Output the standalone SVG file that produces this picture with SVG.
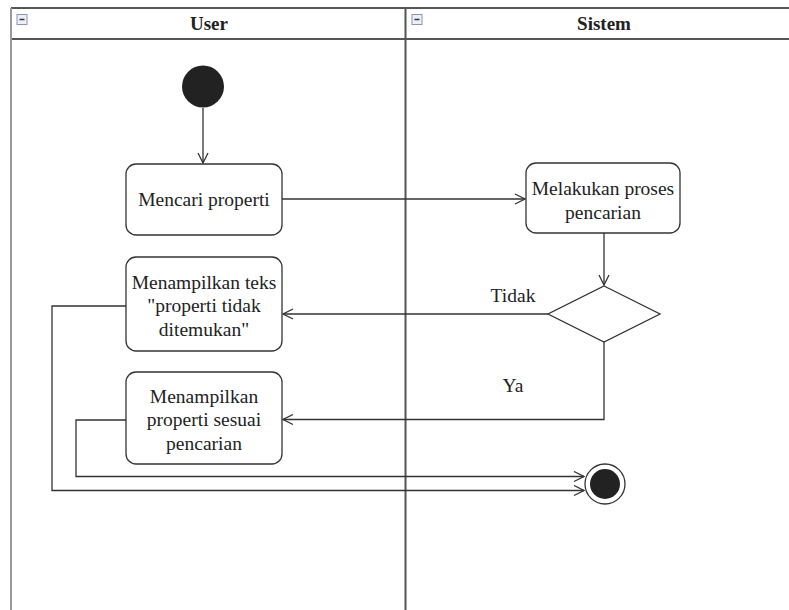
<svg xmlns="http://www.w3.org/2000/svg" width="789" height="610" viewBox="0 0 789 610">
<defs>
<style>
.lane{stroke:#555;stroke-width:2;fill:none}
.node{fill:#fff;stroke:#333;stroke-width:1.3}
.t{font-family:"Liberation Serif","Times New Roman",serif;font-size:19.5px;fill:#222;text-anchor:middle}
.h{font-family:"Liberation Serif","Times New Roman",serif;font-size:19px;font-weight:bold;fill:#222;text-anchor:middle}
.c{stroke:#333;stroke-width:1.3;fill:none}
.icon{fill:#eef0f8;stroke:#8a94b8;stroke-width:1}
</style>
<marker id="arr" viewBox="0 0 12 12" refX="11" refY="6" markerWidth="12" markerHeight="12" markerUnits="userSpaceOnUse" orient="auto">
<path d="M1,1 L11,6 L1,11" fill="none" stroke="#333" stroke-width="1.3"/>
</marker>
</defs>
<rect width="789" height="610" fill="#fff"/>
<g id="lanes">
<line class="lane" x1="11" y1="8" x2="789" y2="8"/>
<line class="lane" x1="11" y1="39" x2="789" y2="39"/>
<line x1="11" y1="8" x2="11" y2="610" stroke="#999" stroke-width="2"/>
<line class="lane" x1="405.5" y1="8" x2="405.5" y2="610"/>
<rect class="icon" x="17" y="14.5" width="10" height="10"/>
<line x1="19.5" y1="19.5" x2="24.5" y2="19.5" stroke="#333" stroke-width="1.5"/>
<rect class="icon" x="412" y="14.5" width="10" height="10"/>
<line x1="414.5" y1="19.5" x2="419.5" y2="19.5" stroke="#333" stroke-width="1.5"/>
<text class="h" x="209" y="30">User</text>
<text class="h" x="604" y="30">Sistem</text>
</g>
<g id="connectors">
<line class="c" x1="203" y1="108" x2="203" y2="163" marker-end="url(#arr)"/>
<line class="c" x1="282" y1="199" x2="525" y2="199" marker-end="url(#arr)"/>
<line class="c" x1="604" y1="233" x2="604" y2="285" marker-end="url(#arr)"/>
<line class="c" x1="548" y1="314" x2="283" y2="314" marker-end="url(#arr)"/>
<polyline class="c" points="604,342 604,419.5 283,419.5" marker-end="url(#arr)"/>
<polyline class="c" points="126,306 52,306 52,490.5 584,490.5" marker-end="url(#arr)"/>
<polyline class="c" points="126,420 76,420 76,476.5 584,476.5" marker-end="url(#arr)"/>
<text class="t" x="513" y="302">Tidak</text>
<text class="t" x="513" y="392">Ya</text>
</g>
<g id="start">
<circle cx="203" cy="86.5" r="21" fill="#222"/>
</g>
<g id="mencari">
<rect class="node" x="126" y="164" width="156" height="71" rx="10"/>
<text class="t" x="204" y="206">Mencari properti</text>
</g>
<g id="melakukan">
<rect class="node" x="526" y="163" width="154" height="70" rx="10"/>
<text class="t" x="603" y="195">Melakukan proses</text>
<text class="t" x="603" y="219">pencarian</text>
</g>
<g id="decision">
<polygon class="node" points="604,286 660,314 604,342 548,314"/>
</g>
<g id="tampil-teks">
<rect class="node" x="126" y="257" width="156" height="94" rx="10"/>
<text class="t" x="204" y="289">Menampilkan teks</text>
<text class="t" x="204" y="312">"properti tidak</text>
<text class="t" x="204" y="336">ditemukan"</text>
</g>
<g id="tampil-properti">
<rect class="node" x="126" y="372" width="156" height="92" rx="10"/>
<text class="t" x="204" y="403">Menampilkan</text>
<text class="t" x="204" y="426">properti sesuai</text>
<text class="t" x="204" y="450">pencarian</text>
</g>
<g id="end">
<circle cx="605" cy="484" r="20" fill="#fff" stroke="#333" stroke-width="1.3"/>
<circle cx="605" cy="484" r="15" fill="#222"/>
</g>
</svg>
